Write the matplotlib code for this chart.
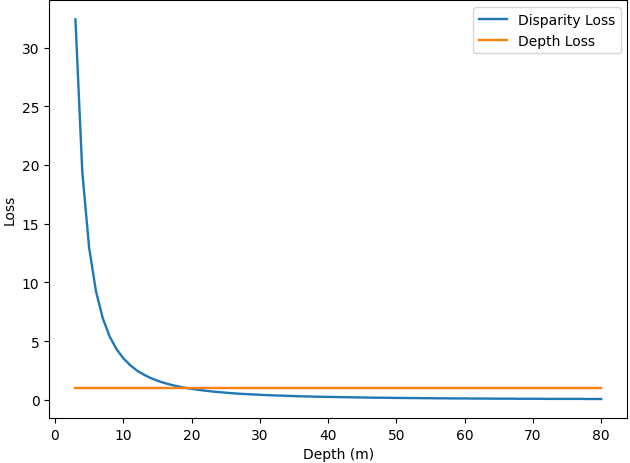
import matplotlib
matplotlib.use('Agg')
import matplotlib.pyplot as plt

# depth samples (m) and losses
depth = list(range(3, 81))
disparity_loss = [
    32.4, 19.45, 12.97, 9.26, 6.95, 5.40, 4.32, 3.54, 2.95, 2.49,
    2.14, 1.85, 1.62, 1.43, 1.27, 1.14, 1.02, 0.93, 0.84, 0.77,
    0.70, 0.65, 0.60, 0.55, 0.51, 0.48, 0.45, 0.42, 0.39, 0.37,
    0.35, 0.33, 0.31, 0.29, 0.28, 0.26, 0.25, 0.24, 0.23, 0.22,
    0.21, 0.20, 0.19, 0.18, 0.17, 0.17, 0.16, 0.15, 0.15, 0.14,
    0.14, 0.13, 0.13, 0.12, 0.12, 0.11, 0.11, 0.11, 0.10, 0.10,
    0.10, 0.09, 0.09, 0.09, 0.09, 0.08, 0.08, 0.08, 0.08, 0.07,
    0.07, 0.07, 0.07, 0.07, 0.07, 0.06, 0.06, 0.06,
]
depth_loss = [1.0] * len(depth)

fig, ax = plt.subplots(figsize=(6.3, 4.64), dpi=100)
fig.subplots_adjust(left=0.078, right=0.996, bottom=0.097, top=0.997)
ax.plot(depth, disparity_loss, label='Disparity Loss', lw=1.7)
ax.plot(depth, depth_loss, label='Depth Loss', lw=1.7)
ax.set_xlabel('Depth (m)')
ax.set_ylabel('Loss')
ax.legend(loc='upper right')
fig.savefig('out.png')
